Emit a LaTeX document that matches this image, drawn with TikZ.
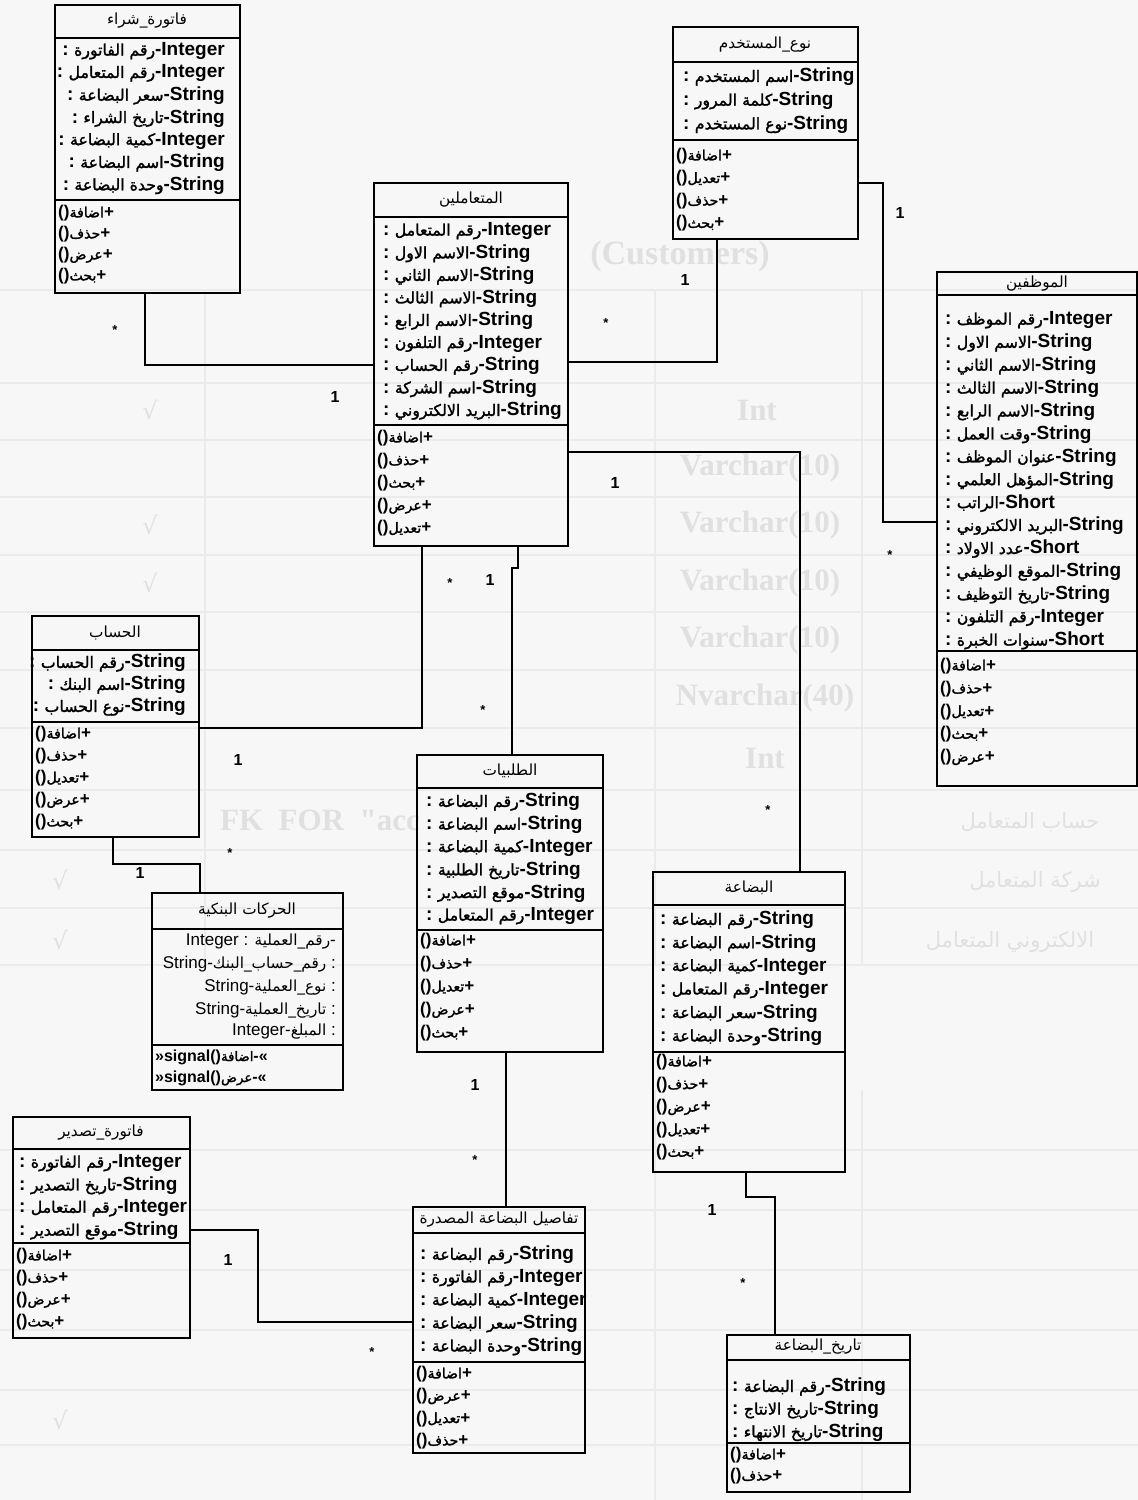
\documentclass[tikz,border=0pt]{standalone}
\usepackage{fontspec}
\setmainfont{Liberation Sans}
\newfontfamily\arb[Script=Arabic,FakeBold=1.6,Scale=0.83]{DejaVu Sans}
\newfontfamily\arr[Script=Arabic,Scale=0.9]{DejaVu Sans}
\newfontfamily\ghostfont{Liberation Serif}
\newfontfamily\ghostar[Script=Arabic]{DejaVu Sans}
\newfontfamily\symfont{DejaVu Sans}
\TeXXeTstate=1
\usetikzlibrary{calc}

% Arabic phrase, right to left
\newcommand\AR[1]{{\mdseries\arb\beginR #1\endR}}
\newcommand\ARt[1]{{\mdseries\arr\beginR #1\endR}}
% attribute line: colon, name, dash, type
\newcommand\atL[2]{:\ \AR{#2}-#1}
% operation line
\newcommand\op[1]{()\AR{#1}+}

\tikzset{
  cls/.style={draw=black, line width=1.4pt, inner sep=0pt, outer sep=0pt, anchor=north west},
  divline/.style={line width=1.3pt},
  conn/.style={line width=1.1pt},
  attr/.style={inner sep=0pt, font=\bfseries\fontsize{19}{21}\selectfont},
  opr/.style={inner sep=0pt, anchor=west, font=\bfseries\fontsize{17}{19}\selectfont},
  ttl/.style={inner sep=0pt, font=\fontsize{17}{18}\selectfont},
  mult/.style={inner sep=0pt, font=\bfseries\fontsize{16}{16}\selectfont},
  star/.style={inner sep=0pt, font=\bfseries\fontsize{13}{13}\selectfont},
  ghline/.style={draw=black!8, line width=1.6pt},
  ghtext/.style={inner sep=0pt, text=black!12, font=\ghostfont\bfseries\fontsize{31}{33}\selectfont},
  gharabic/.style={inner sep=0pt, text=black!12, font=\ghostar\fontsize{21}{23}\selectfont},
}

% class box: name, x1, y1, x2, y2, y of title divider, y of attribute divider
\newcommand\umlclass[7]{%
  \node[cls, minimum width={#4-#2}, minimum height={#5-#3}] (#1) at (#2,#3) {};
  \draw[divline] (#2,#6) -- (#4,#6);
  \draw[divline] (#2,#7) -- (#4,#7);
}
% attribute lists: name, x, first y, pitch, list of type/name
\newcommand\attrsL[5]{\foreach \tp/\nm [count=\i] in {#5}
  {\node[attr, anchor=west] (#1-a\i) at (#2,{#3+#4*(\i-1)}) {\atL{\tp}{\nm}};}}
\newcommand\attrsR[5]{\foreach \tp/\nm [count=\i] in {#5}
  {\node[attr, anchor=east] (#1-a\i) at (#2,{#3+#4*(\i-1)}) {\atL{\tp}{\nm}};}}
\newcommand\opsL[5]{\foreach \nm [count=\i] in {#5}
  {\node[opr] (#1-o\i) at (#2,{#3+#4*(\i-1)}) {\op{\nm}};}}

\begin{document}
\begin{tikzpicture}[x=1pt,y=-1pt]
\useasboundingbox (0,0) rectangle (1138,1500);
\fill[white!97!black] (0,0) rectangle (1138,1500);

% faint table printed on the reverse side of the sheet
\begin{scope}
  \foreach \yy in {290,383,440,497,555,612,670,728,790,850,908,965,1150,1210,1270,1330,1390,1445}
    \draw[ghline] (0,\yy) -- (1138,\yy);
  \foreach \xx in {205,655,862}
    \draw[ghline] (\xx,290) -- (\xx,965);
  \foreach \xx in {655,862}
    \draw[ghline] (\xx,1090) -- (\xx,1500);
  \node[ghtext, font=\ghostfont\bfseries\fontsize{34}{36}\selectfont] (g1) at (680,256) {(Customers)};
  \node[ghtext] (g2) at (757,410) {Int};
  \node[ghtext] (g3) at (760,468) {Varchar(10)};
  \node[ghtext] (g4) at (760,525) {Varchar(10)};
  \node[ghtext] (g5) at (760,583) {Varchar(10)};
  \node[ghtext] (g6) at (760,640) {Varchar(10)};
  \node[ghtext] (g7) at (765,698) {Nvarchar(40)};
  \node[ghtext] (g8) at (765,758) {Int};
  \node[ghtext] (g11) at (320,820) {FK\ \ FOR\ \ "acc};
  \node[gharabic] (g18) at (1030,822) {\beginR حساب المتعامل\endR};
  \node[gharabic] (g19) at (1035,882) {\beginR شركة المتعامل\endR};
  \node[gharabic] (g20) at (1010,942) {\beginR الالكتروني المتعامل\endR};
  \foreach \yy [count=\i] in {410,525,583}
    \node[ghtext, font=\symfont\fontsize{24}{24}\selectfont] (gv\i) at (150,\yy) {√};
  \foreach \yy [count=\i] in {880,940,1420}
    \node[ghtext, font=\symfont\fontsize{24}{24}\selectfont] (gw\i) at (60,\yy) {√};
\end{scope}

% ---------- classes ----------
\umlclass{fs}{55}{5}{240}{293}{38}{200}
\node[ttl] (fs-t) at (147,21) {\ARt{فاتورة\_شراء}};
\attrsR{fs}{225}{51}{22.4}{Integer/رقم الفاتورة, Integer/رقم المتعامل, String/سعر البضاعة, String/تاريخ الشراء, Integer/كمية البضاعة, String/اسم البضاعة, String/وحدة البضاعة}
\opsL{fs}{58}{213}{21}{اضافة, حذف, عرض, بحث}

\umlclass{nu}{673}{27}{858}{239}{62}{140}
\node[ttl] (nu-t) at (765,45) {\ARt{نوع\_المستخدم}};
\attrsL{nu}{683}{77}{23.7}{String/اسم المستخدم, String/كلمة المرور, String/نوع المستخدم}
\opsL{nu}{676}{156}{22.5}{اضافة, تعديل, حذف, بحث}

\umlclass{mt}{374}{183}{568}{546}{217}{425}
\node[ttl] (mt-t) at (471,200) {\ARt{المتعاملين}};
\attrsL{mt}{383}{231}{22.5}{Integer/رقم المتعامل, String/الاسم الاول, String/الاسم الثاني, String/الاسم الثالث, String/الاسم الرابع, Integer/رقم التلفون, String/رقم الحساب, String/اسم الشركة, String/البريد الالكتروني}
\opsL{mt}{377}{438}{22.6}{اضافة, حذف, بحث, عرض, تعديل}

\umlclass{mw}{937}{272}{1137}{786}{295}{651}
\node[ttl] (mw-t) at (1037,284) {\ARt{الموظفين}};
\attrsL{mw}{945}{320}{22.9}{Integer/رقم الموظف, String/الاسم الاول, String/الاسم الثاني, String/الاسم الثالث, String/الاسم الرابع, String/وقت العمل, String/عنوان الموظف, String/المؤهل العلمي, Short/الراتب, String/البريد الالكتروني, Short/عدد الاولاد, String/الموقع الوظيفي, String/تاريخ التوظيف, Integer/رقم التلفون, Short/سنوات الخبرة}
\opsL{mw}{940}{666}{22.8}{اضافة, حذف, تعديل, بحث, عرض}

\umlclass{hs}{32}{616}{199}{837}{650}{722}
\node[ttl] (hs-t) at (115,633) {\ARt{الحساب}};
\attrsR{hs}{186}{663}{22}{String/رقم الحساب, String/اسم البنك, String/نوع الحساب}
\opsL{hs}{35}{734}{22}{اضافة, حذف, تعديل, عرض, بحث}

\umlclass{tl}{417}{755}{603}{1052}{788}{930}
\node[ttl] (tl-t) at (510,771) {\ARt{الطلبيات}};
\attrsL{tl}{426}{802}{22.8}{String/رقم البضاعة, String/اسم البضاعة, Integer/كمية البضاعة, String/تاريخ الطلبية, String/موقع التصدير, Integer/رقم المتعامل}
\opsL{tl}{420}{941}{23}{اضافة, حذف, تعديل, عرض, بحث}

\umlclass{hb}{152}{893}{343}{1090}{929}{1045}
\node[ttl] (hb-t) at (247,911) {\ARt{الحركات البنكية}};
\begin{scope}[every node/.style={inner sep=0pt, anchor=east, font=\fontsize{17}{19}\selectfont}]
  \node (hb-a1) at (336,942) {Integer : {\arr\beginR رقم\_العملية\endR}-};
  \node (hb-a2) at (336,964) {String-{\arr\beginR رقم\_حساب\_البنك\endR} :};
  \node (hb-a3) at (336,987) {String-{\arr\beginR نوع\_العملية\endR} :};
  \node (hb-a4) at (336,1010) {String-{\arr\beginR تاريخ\_العملية\endR} :};
  \node (hb-a5) at (336,1032) {Integer-{\arr\beginR المبلغ\endR} :};
\end{scope}
\begin{scope}[every node/.style={inner sep=0pt, anchor=west, font=\bfseries\fontsize{16}{18}\selectfont}]
  \node (hb-o1) at (155,1057) {»signal()\AR{اضافة}-«};
  \node (hb-o2) at (155,1078) {»signal()\AR{عرض}-«};
\end{scope}

\umlclass{bd}{653}{872}{845}{1172}{905}{1052}
\node[ttl] (bd-t) at (749,888) {\ARt{البضاعة}};
\attrsL{bd}{660}{920}{23.3}{String/رقم البضاعة, String/اسم البضاعة, Integer/كمية البضاعة, Integer/رقم المتعامل, String/سعر البضاعة, String/وحدة البضاعة}
\opsL{bd}{656}{1062}{22.6}{اضافة, حذف, عرض, تعديل, بحث}

\umlclass{ft}{13}{1117}{190}{1338}{1149}{1243}
\node[ttl] (ft-t) at (101,1133) {\ARt{فاتورة\_تصدير}};
\attrsL{ft}{19}{1163}{22.6}{Integer/رقم الفاتورة, String/تاريخ التصدير, Integer/رقم المتعامل, String/موقع التصدير}
\opsL{ft}{16}{1256}{22}{اضافة, حذف, عرض, بحث}

\umlclass{tf}{413}{1207}{585}{1453}{1233}{1362}
\node[ttl] (tf-t) at (499,1220) {\ARt{تفاصيل البضاعة المصدرة}};
\attrsL{tf}{420}{1255}{22.9}{String/رقم البضاعة, Integer/رقم الفاتورة, Integer/كمية البضاعة, String/سعر البضاعة, String/وحدة البضاعة}
\opsL{tf}{416}{1374}{22.3}{اضافة, عرض, تعديل, حذف}

\umlclass{tb}{727}{1335}{910}{1492}{1360}{1443}
\node[ttl] (tb-t) at (818,1347) {\ARt{تاريخ\_البضاعة}};
\attrsL{tb}{732}{1387}{22.7}{String/رقم البضاعة, String/تاريخ الانتاج, String/تاريخ الانتهاء}
\opsL{tb}{730}{1455}{21}{اضافة, حذف}

% ---------- associations ----------
\coordinate (p1) at (145,365);
\draw[conn] (fs.south -| p1) -- (p1) -- (mt.west |- p1);
\coordinate (p2) at (717,362);
\draw[conn] (nu.south -| p2) -- (p2) -- (mt.east |- p2);
\coordinate (p3a) at (883,183);
\coordinate (p3b) at (883,522);
\draw[conn] (nu.east |- p3a) -- (p3a) -- (p3b) -- (mw.west |- p3b);
\coordinate (p4) at (800,452);
\draw[conn] (mt.east |- p4) -- (p4) -- (bd.north -| p4);
\coordinate (p5) at (422,728);
\draw[conn] (mt.south -| p5) -- (p5) -- (hs.east |- p5);
\coordinate (p6a) at (518,565);
\coordinate (p6b) at (512,568);
\draw[conn] (mt.south -| p6a) -- (p6a) -- (p6a |- p6b) -- (p6b) -- (tl.north -| p6b);
\coordinate (p7a) at (113,864);
\coordinate (p7b) at (200,864);
\draw[conn] (hs.south -| p7a) -- (p7a) -- (p7b) -- (hb.north -| p7b);
\coordinate (p8) at (506,1120);
\draw[conn] (tl.south -| p8) -- (tf.north -| p8);
\coordinate (p9a) at (258,1230);
\coordinate (p9b) at (258,1322);
\draw[conn] (ft.east |- p9a) -- (p9a) -- (p9b) -- (tf.west |- p9b);
\coordinate (p10a) at (746,1197);
\coordinate (p10b) at (775,1197);
\draw[conn] (bd.south -| p10a) -- (p10a) -- (p10b) -- (tb.north -| p10b);

% ---------- multiplicities ----------
\node[star] (m1) at (115,330) {*};
\node[mult] (m2) at (335,397) {1};
\node[mult] (m3) at (685,280) {1};
\node[star] (m4) at (606,323) {*};
\node[mult] (m5) at (900,213) {1};
\node[star] (m6) at (890,555) {*};
\node[mult] (m7) at (615,483) {1};
\node[star] (m8) at (768,810) {*};
\node[star] (m9) at (450,583) {*};
\node[mult] (m10) at (238,760) {1};
\node[mult] (m11) at (490,580) {1};
\node[star] (m12) at (483,710) {*};
\node[star] (m13) at (230,853) {*};
\node[mult] (m14) at (140,873) {1};
\node[mult] (m15) at (475,1085) {1};
\node[star] (m16) at (475,1160) {*};
\node[mult] (m17) at (228,1260) {1};
\node[star] (m18) at (372,1352) {*};
\node[mult] (m19) at (712,1210) {1};
\node[star] (m20) at (743,1283) {*};
\end{tikzpicture}
\end{document}
